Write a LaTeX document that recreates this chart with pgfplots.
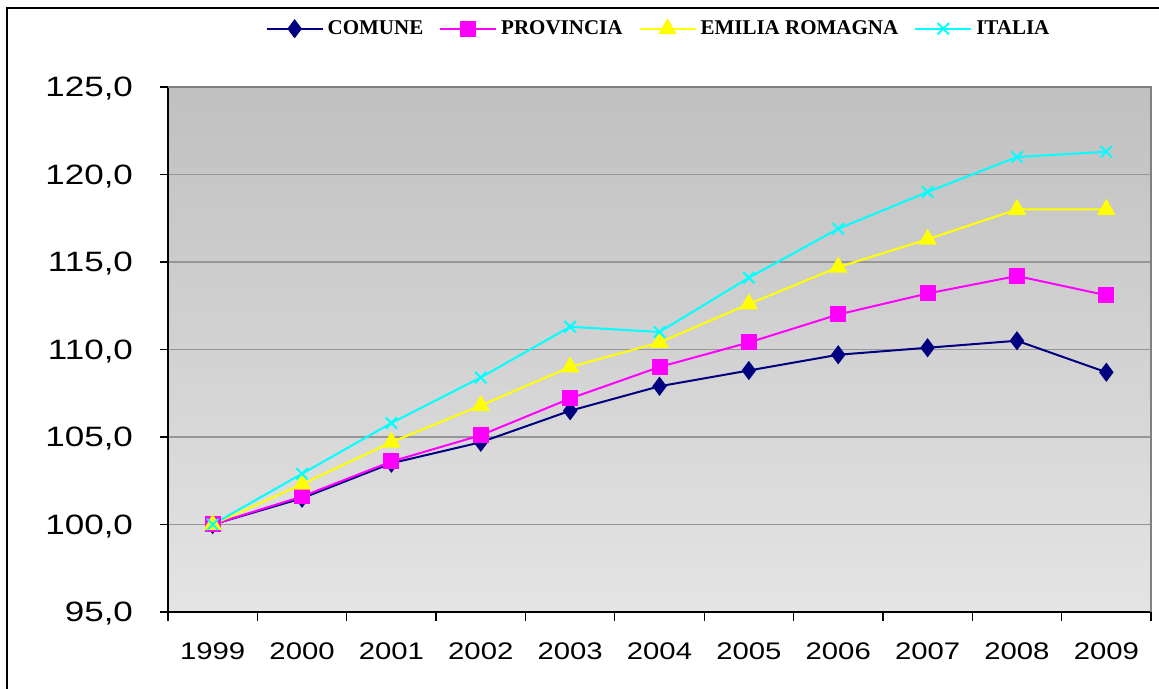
\documentclass[border=0pt]{standalone}
\usepackage{fontspec}
\setmainfont{Liberation Sans}
\newfontfamily\legfont{Liberation Serif}
\newfontfamily\xfont[FakeStretch=1.22]{Liberation Sans}
\newfontfamily\yfont[FakeStretch=1.25]{Liberation Sans}
\usepackage{pgfplots}
\pgfplotsset{compat=1.18}

\definecolor{comune}{RGB}{0,0,128}
\definecolor{provincia}{RGB}{255,0,255}
\definecolor{emilia}{RGB}{255,255,0}
\definecolor{italia}{RGB}{0,255,255}
\definecolor{gridgray}{RGB}{150,150,150}
\definecolor{bgtop}{RGB}{192,192,192}
\definecolor{bgbot}{RGB}{228,228,228}

\begin{document}
\begin{tikzpicture}
\path[use as bounding box] (-84bp,-38.5bp) rectangle (495.5bp,306bp);
% outer chart frame (only left and top edges fall inside the picture)
\draw[line width=0.8bp,black] (-80.5bp,-40bp) -- (-80.5bp,302bp) -- (497bp,302bp);
\begin{axis}[
  scale only axis,
  width=491.5bp, height=262.5bp,
  xmin=-0.5, xmax=10.5,
  ymin=95, ymax=125,
  axis x line*=bottom,
  axis y line*=left,
  axis line style={black, line width=0.6bp},
  axis background/.style={top color=bgtop, bottom color=bgbot},
  xtick={0,...,10},
  xticklabels={1999,2000,2001,2002,2003,2004,2005,2006,2007,2008,2009},
  major x tick style={draw=none},
  minor xtick={-0.5,0.5,...,10.5},
  minor tick length=4.5bp,
  minor x tick style={black, line width=0.6bp},
  ytick={95,100,...,125},
  yticklabels={{95,0},{100,0},{105,0},{110,0},{115,0},{120,0},{125,0}},
  major tick length=4bp,
  major y tick style={black, line width=0.6bp},
  tick align=outside,
  ymajorgrids,
  grid style={gridgray, line width=0.6bp},
  xticklabel style={font=\xfont\fontsize{12bp}{14bp}\selectfont, yshift=-8bp},
  yticklabel style={font=\yfont\fontsize{14bp}{16bp}\selectfont, xshift=-10bp, yshift=-1bp},
  legend columns=-1,
  legend style={at={(0.5,1.111)}, anchor=center, draw=none, fill=none,
    font=\legfont\bfseries\fontsize{10.5bp}{12bp}\selectfont,
    /tikz/every even column/.append style={column sep=6bp},
    inner sep=0pt},
  legend image code/.code={
    \draw[#1, mark repeat=2, mark phase=2] plot coordinates {(0bp,0bp) (14bp,0bp) (28bp,0bp)};
  },
  every axis plot/.append style={line width=1bp},
  clip=false,
]
\addplot[comune, mark=diamond*, mark size=4bp, mark options={fill=comune}] coordinates {
  (0,100.0) (1,101.5) (2,103.5) (3,104.7) (4,106.5) (5,107.9)
  (6,108.8) (7,109.7) (8,110.1) (9,110.5) (10,108.7)
};
\addlegendentry{COMUNE}
\addplot[provincia, mark=square*, mark size=3.5bp, mark options={fill=provincia}] coordinates {
  (0,100.0) (1,101.6) (2,103.6) (3,105.1) (4,107.2) (5,109.0)
  (6,110.4) (7,112.0) (8,113.2) (9,114.2) (10,113.1)
};
\addlegendentry{PROVINCIA}
\addplot[emilia, mark=triangle*, mark size=4.3bp, mark options={fill=emilia}] coordinates {
  (0,100.0) (1,102.3) (2,104.7) (3,106.8) (4,109.0) (5,110.4)
  (6,112.6) (7,114.7) (8,116.3) (9,118.0) (10,118.0)
};
\addlegendentry{EMILIA ROMAGNA}
\addplot[italia, mark=x, mark size=4bp] coordinates {
  (0,100.0) (1,102.9) (2,105.8) (3,108.4) (4,111.3) (5,111.0)
  (6,114.1) (7,116.9) (8,119.0) (9,121.0) (10,121.3)
};
\addlegendentry{ITALIA}
\draw[gray, line width=0.6bp] (rel axis cs:0,1) -- (rel axis cs:1,1) -- (rel axis cs:1,0);
\end{axis}
\end{tikzpicture}
\end{document}
